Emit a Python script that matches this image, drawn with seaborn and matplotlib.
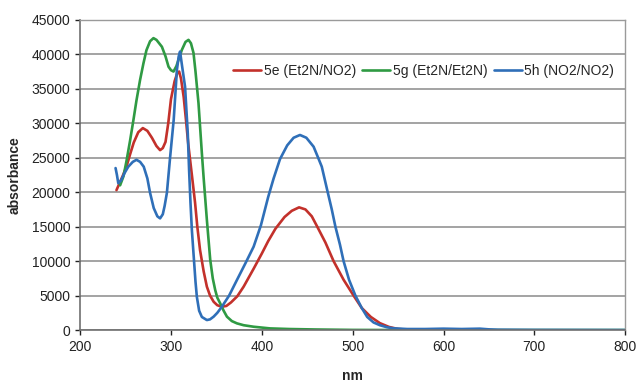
import pandas as pd
import matplotlib.pyplot as plt
import seaborn as sns

# Spectra (nm, absorbance)
nm_5e = [240, 243, 247, 251, 255, 259, 264, 269, 274, 279, 284, 288, 291, 294, 297, 300, 304,
         307, 309, 311, 314, 316.5, 319, 323, 326.5, 329, 332, 336, 339.5, 343, 347, 351, 356,
         361, 366, 373, 380, 391, 400, 407, 415, 425, 433, 441, 448, 455, 461, 470, 479, 490,
         501, 510, 520, 530, 540, 550, 560, 580, 600]
abs_5e = [20300, 21200, 22400, 23700, 25500, 27200, 28700, 29300, 28900, 27900, 26700, 26100,
          26400, 27300, 30000, 33500, 36100, 37300, 37500, 36500, 33800, 30500, 27000, 22500,
          18500, 15000, 11600, 8500, 6300, 5000, 4100, 3600, 3380, 3500, 4000, 4900, 6300,
          8900, 11100, 12900, 14700, 16400, 17300, 17800, 17500, 16500, 15000, 12700, 10000,
          7300, 5000, 3200, 1900, 1000, 450, 150, 60, 0, 0]

nm_5g = [244, 247.7, 251, 255, 258.7, 262, 266, 269.7, 273, 277, 280.7, 284, 287, 290, 294,
         297.3, 300, 302.8, 306, 309, 312, 316, 319.3, 322, 324.8, 327, 330.3, 334, 336, 339.5,
         343.2, 346, 348.7, 351, 354.2, 358, 361.6, 367, 372.6, 380, 391, 409, 430, 460, 500,
         550, 600, 700, 800]
abs_5g = [21000, 22300, 24500, 27500, 30500, 33300, 36300, 38700, 40600, 41900, 42350, 42100,
          41600, 41100, 39700, 38200, 37700, 37500, 38300, 39500, 40650, 41800, 42100, 41600,
          40200, 37500, 32900, 25650, 22000, 16000, 10200, 7500, 5800, 4700, 3870, 2800, 1940,
          1300, 970, 700, 480, 240, 150, 80, 20, 0, 0, 0, 0]

nm_5h = [239, 240.5, 242, 245, 249, 253, 258, 262, 266, 270, 274, 277, 281, 285, 288, 291, 293,
         295.5, 299, 303, 306.5, 308.5, 310, 312, 315.5, 318.5, 320, 321.5, 323, 324.8, 327,
         328.5, 331, 334, 339.5, 343, 347, 351, 356, 364, 372.6, 382, 391, 399, 407, 413, 420,
         428, 435, 442, 449, 457, 462, 466, 472, 477, 481, 486, 490, 496, 503, 510, 516, 523,
         530, 538, 545, 560, 580, 600, 620, 640, 650, 660, 700, 800]
abs_5h = [23500, 22500, 21300, 21700, 22800, 23700, 24400, 24700, 24400, 23700, 22000, 19900,
          17700, 16500, 16200, 16800, 18000, 19900, 25000, 30500, 37700, 39700, 40400, 38500,
          35300, 28500, 23000, 18400, 14500, 11100, 7000, 4800, 2800, 1900, 1450, 1550, 1950,
          2500, 3380, 5000, 7260, 9700, 12100, 15200, 19300, 22000, 24800, 26800, 27900,
          28300, 27900, 26600, 25000, 23700, 20300, 17500, 15000, 12400, 10000, 7300, 5000,
          3200, 1900, 1100, 700, 400, 250, 150, 150, 200, 150, 200, 100, 50, 20, 0]

series = ["5e (Et2N/NO2)", "5g (Et2N/Et2N)", "5h (NO2/NO2)"]
colors = ["#c3312b", "#2f9a43", "#2f6fb8"]

df = pd.concat([
    pd.DataFrame({"nm": nm_5e, "absorbance": abs_5e, "compound": series[0]}),
    pd.DataFrame({"nm": nm_5g, "absorbance": abs_5g, "compound": series[1]}),
    pd.DataFrame({"nm": nm_5h, "absorbance": abs_5h, "compound": series[2]}),
])

sns.set_style("white")
plt.rcParams["font.family"] = ["Liberation Sans", "DejaVu Sans"]

fig, ax = plt.subplots(figsize=(6.36, 3.82), dpi=100)
fig.subplots_adjust(left=0.126, right=0.983, bottom=0.136, top=0.948)

sns.lineplot(data=df, x="nm", y="absorbance", hue="compound", hue_order=series,
             palette=colors, estimator=None, sort=False, linewidth=1.9, ax=ax)

ax.set_xlim(200, 800)
ax.set_ylim(0, 45000)
ax.set_xticks(range(200, 801, 100))
ax.set_yticks(range(0, 45001, 5000))
ax.yaxis.grid(True, color="#8a8a8a", linewidth=1.1)
ax.set_axisbelow(True)

ax.tick_params(axis="both", labelsize=10, colors="#222222", length=3.5, width=1.0,
               direction="out", left=True, bottom=True)
for side in ["top", "right"]:
    ax.spines[side].set_color("#9a9a9a")
    ax.spines[side].set_linewidth(1.0)
for side in ["left", "bottom"]:
    ax.spines[side].set_color("#707070")
    ax.spines[side].set_linewidth(1.2)

ax.set_xlabel("nm", fontsize=10, fontweight="bold", labelpad=11)
ax.set_ylabel("absorbance", fontsize=10, fontweight="bold", labelpad=7)

ax.legend(loc="center left", bbox_to_anchor=(0.281, 0.835), ncol=3, frameon=False,
          fontsize=10, handlelength=2.0, handletextpad=0.2, columnspacing=0.45,
          borderpad=0, borderaxespad=0)

plt.savefig("out.png", dpi=100)
